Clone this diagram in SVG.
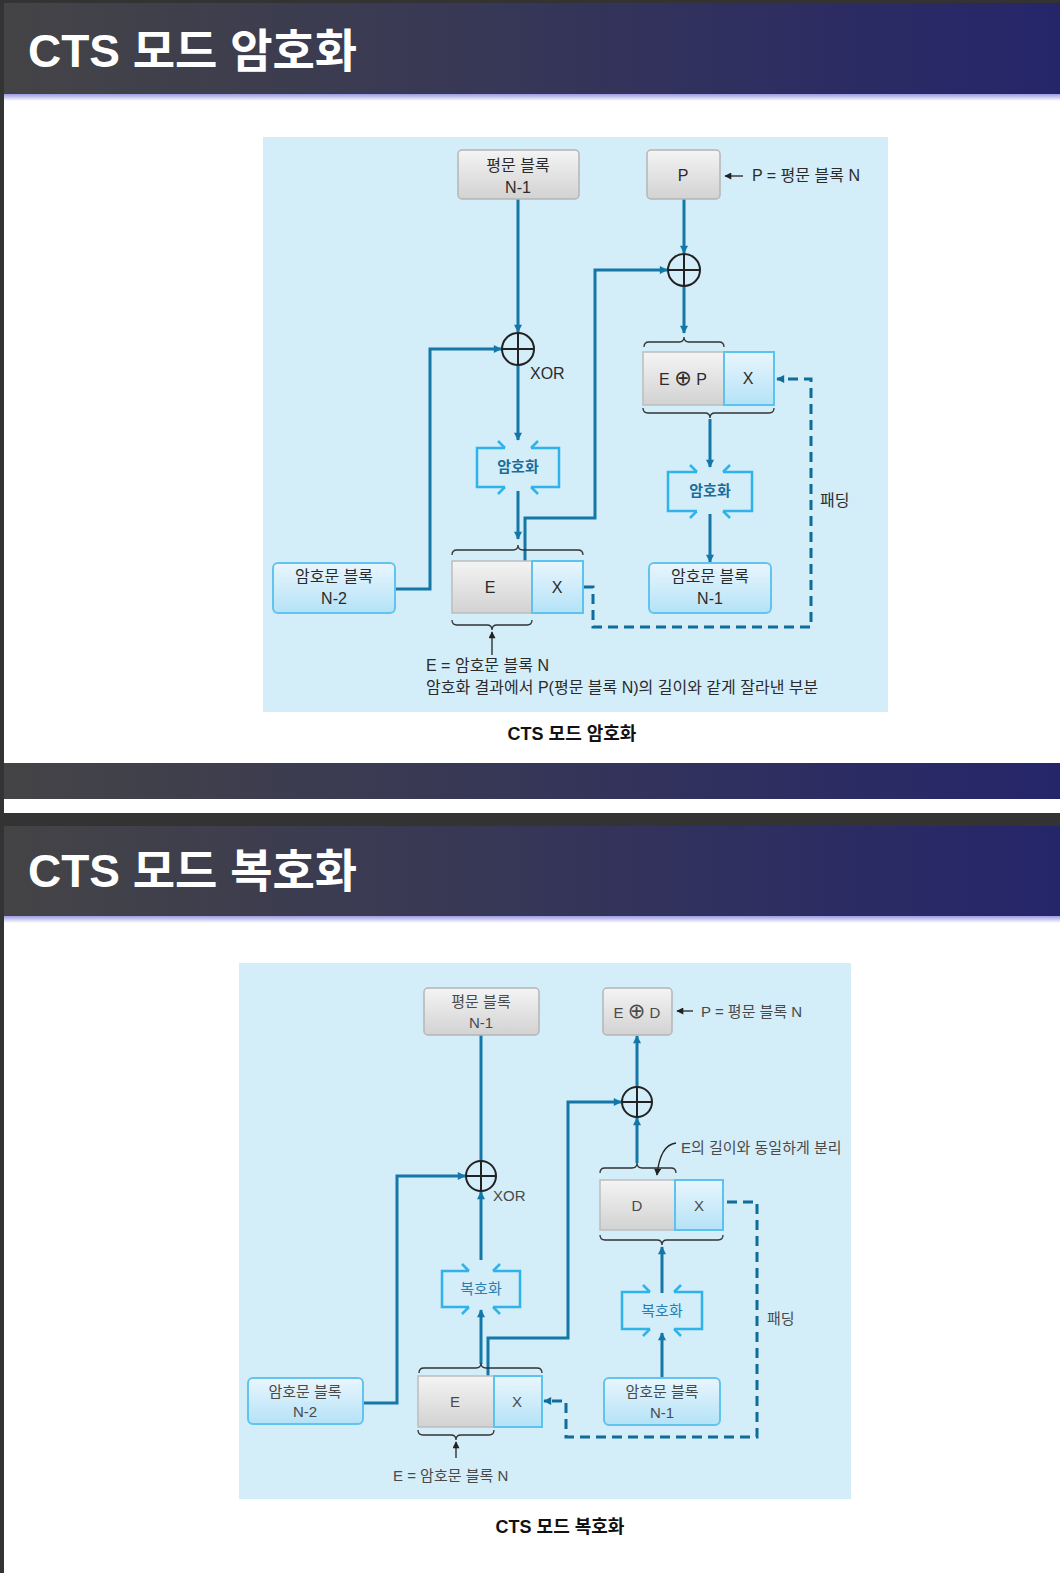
<svg xmlns="http://www.w3.org/2000/svg" width="1060" height="1573" viewBox="0 0 1060 1573">
<defs>
<style>
.hd{font-family:"Liberation Sans","Noto Sans CJK KR",sans-serif;font-weight:bold;fill:#fff}
.cap{font-family:"Liberation Sans","Noto Sans CJK KR",sans-serif;font-weight:bold;font-size:18px;fill:#111;text-anchor:middle}
.t{font-family:"Liberation Sans","DejaVu Sans","Noto Sans CJK KR",sans-serif;font-size:16px;fill:#2b2b2b}
.tb{font-family:"Liberation Sans","DejaVu Sans","Noto Sans CJK KR",sans-serif;font-size:15px;fill:#4a4a4a}
.c{text-anchor:middle}
.op{font-family:"DejaVu Sans",sans-serif;font-size:21px}
.enc{font-family:"Noto Sans CJK KR",sans-serif;font-size:15px;font-weight:bold;fill:#1a6d9b;text-anchor:middle}
.dec{font-family:"Noto Sans CJK KR",sans-serif;font-size:15px;fill:#2a7fb2;text-anchor:middle}
.gbox{fill:url(#gg);stroke:#b5b5b5;stroke-width:1.5}
.bbox{fill:url(#bg);stroke:#62c4ee;stroke-width:2}
.gcell{fill:url(#gg);stroke:#bdbdbd;stroke-width:1.5}
.bcell{fill:url(#bg);stroke:#5cc2ee;stroke-width:2}
.br{fill:none;stroke:#2fb3ea;stroke-width:2.5}
.xor{fill:none;stroke:#222;stroke-width:2}
.ln{fill:none;stroke:#1577a8;stroke-width:3}
.ds{fill:none;stroke:#0f6c9b;stroke-width:3;stroke-dasharray:10 6}
.brace{fill:none;stroke:#333;stroke-width:1.3}
.thin{fill:none;stroke:#222;stroke-width:1.3}
</style>
<linearGradient id="hg" x1="0" y1="0" x2="1" y2="0">
<stop offset="0" stop-color="#444446"/><stop offset="0.5" stop-color="#363658"/><stop offset="1" stop-color="#25256b"/>
</linearGradient>
<linearGradient id="lv" x1="0" y1="0" x2="0" y2="1">
<stop offset="0" stop-color="#9a9ae2"/><stop offset="1" stop-color="#ffffff"/>
</linearGradient>
<linearGradient id="gg" x1="0" y1="0" x2="0" y2="1">
<stop offset="0" stop-color="#f4f4f4"/><stop offset="1" stop-color="#d2d2d2"/>
</linearGradient>
<linearGradient id="bg" x1="0" y1="0" x2="0" y2="1">
<stop offset="0" stop-color="#e9f6fd"/><stop offset="1" stop-color="#b4e2f7"/>
</linearGradient>
<marker id="ah" viewBox="0 0 10 10" refX="9" refY="5" markerWidth="9" markerHeight="8" markerUnits="userSpaceOnUse" orient="auto">
<path d="M0,0 L10,5 L0,10 z" fill="#1577a8"/>
</marker>
<marker id="ad" viewBox="0 0 10 10" refX="9" refY="5" markerWidth="9" markerHeight="8" markerUnits="userSpaceOnUse" orient="auto">
<path d="M0,0 L10,5 L0,10 z" fill="#0f6c9b"/>
</marker>
<marker id="ak" viewBox="0 0 10 10" refX="9" refY="5" markerWidth="8" markerHeight="7" markerUnits="userSpaceOnUse" orient="auto">
<path d="M0,0 L10,5 L0,10 z" fill="#222"/>
</marker>
</defs>

<!-- page -->
<rect x="0" y="0" width="1060" height="1573" fill="#ffffff"/>
<rect x="0" y="0" width="1060" height="3" fill="#333"/>
<rect x="0" y="0" width="4" height="1573" fill="#333"/>
<rect x="4" y="3" width="1056" height="91" fill="url(#hg)"/>
<rect x="4" y="94" width="1056" height="7" fill="url(#lv)"/>
<text class="hd" x="28" y="67" font-size="46">CTS 모드 암호화</text>

<rect x="4" y="763" width="1056" height="36" fill="url(#hg)"/>
<rect x="4" y="813" width="1056" height="13" fill="#333"/>
<rect x="4" y="826" width="1056" height="90" fill="url(#hg)"/>
<rect x="4" y="916" width="1056" height="7" fill="url(#lv)"/>
<text class="hd" x="28" y="887" font-size="46">CTS 모드 복호화</text>

<!-- ===== Encryption diagram ===== -->
<rect x="263" y="137" width="625" height="575" fill="#d3edf9"/>

<g id="enc-connectors">
<path class="ln" d="M518,199 V332" marker-end="url(#ah)"/>
<path class="ln" d="M395,589 H430 V349 H501" marker-end="url(#ah)"/>
<path class="ln" d="M518,365 V440" marker-end="url(#ah)"/>
<path class="ln" d="M518,491 V539" marker-end="url(#ah)"/>
<path class="ln" d="M525,561 V518 H595 V270 H667" marker-end="url(#ah)"/>
<path class="ln" d="M684,199 V253" marker-end="url(#ah)"/>
<path class="ln" d="M684,286 V333" marker-end="url(#ah)"/>
<path class="ln" d="M710,419 V467" marker-end="url(#ah)"/>
<path class="ln" d="M710,514 V562" marker-end="url(#ah)"/>
<path class="ds" d="M584,587 H593 V627 H811 V379 H777" marker-end="url(#ad)"/>
<path class="thin" d="M743,176 H725" marker-end="url(#ak)"/>
<path class="thin" d="M492,655 V632" marker-end="url(#ak)"/>
</g>

<g id="enc-plain-n1">
<rect class="gbox" x="458" y="150" width="121" height="49" rx="4"/>
<text class="t c" x="518" y="171" font-size="15">평문 블록</text>
<text class="t c" x="518" y="193" font-size="15">N-1</text>
</g>
<g id="enc-p">
<rect class="gbox" x="647" y="150" width="73" height="49" rx="4"/>
<text class="t c" x="683" y="181">P</text>
</g>
<text class="t" x="752" y="181">P = 평문 블록 N</text>

<g id="enc-xor1">
<circle class="xor" cx="518" cy="349" r="16"/>
<path class="xor" d="M502,349 H534 M518,333 V365"/>
</g>
<text class="t" x="530" y="379">XOR</text>

<g id="enc-xor2">
<circle class="xor" cx="684" cy="270" r="16"/>
<path class="xor" d="M668,270 H700 M684,254 V286"/>
</g>

<g id="enc-box1">
<path class="br" d="M505,448 H477 V487 H505 M505,448 l-7,-7 M505,487 l-7,7 M531,448 H559 V487 H531 M531,448 l7,-7 M531,487 l7,7"/>
<text class="enc" x="518" y="472">암호화</text>
</g>
<g id="enc-box2">
<path class="br" d="M697,472 H668 V511 H697 M697,472 l-7,-7 M697,511 l-7,7 M723,472 H752 V511 H723 M723,472 l7,-7 M723,511 l7,7"/>
<text class="enc" x="710" y="496">암호화</text>
</g>

<g id="enc-ex">
<rect class="gcell" x="452" y="561" width="80" height="52"/>
<rect class="bcell" x="532" y="561" width="51" height="52"/>
<text class="t c" x="490" y="593">E</text>
<text class="t c" x="557" y="593">X</text>
<path class="brace" d="M452,555 Q452,550 457,550 H513 Q518,550 518,545 Q518,550 523,550 H578 Q583,550 583,555"/>
<path class="brace" d="M452,620 Q452,625 457,625 H487 Q492,625 492,630 Q492,625 497,625 H527 Q532,625 532,620"/>
</g>

<g id="enc-epx">
<rect class="gcell" x="643" y="352" width="81" height="53"/>
<rect class="bcell" x="724" y="352" width="50" height="53"/>
<text class="t c" x="683" y="385">E <tspan class="op">⊕</tspan> P</text>
<text class="t c" x="748" y="384">X</text>
<path class="brace" d="M644,347 Q644,342 649,342 H679 Q684,342 684,337 Q684,342 689,342 H719 Q724,342 724,347"/>
<path class="brace" d="M643,408 Q643,413 648,413 H705 Q710,413 710,418 Q710,413 715,413 H769 Q774,413 774,408"/>
</g>

<g id="enc-c-n2">
<rect class="bbox" x="273" y="563" width="122" height="50" rx="5"/>
<text class="t c" x="334" y="582" font-size="15">암호문 블록</text>
<text class="t c" x="334" y="604" font-size="15">N-2</text>
</g>
<g id="enc-c-n1">
<rect class="bbox" x="649" y="563" width="122" height="50" rx="5"/>
<text class="t c" x="710" y="582" font-size="15">암호문 블록</text>
<text class="t c" x="710" y="604" font-size="15">N-1</text>
</g>

<text class="t" x="820" y="506">패딩</text>
<text class="t" x="426" y="671">E = 암호문 블록 N</text>
<text class="t" x="426" y="693">암호화 결과에서 P(평문 블록 N)의 길이와 같게 잘라낸 부분</text>

<text class="cap" x="572" y="740">CTS 모드 암호화</text>

<!-- ===== Decryption diagram ===== -->
<rect x="239" y="963" width="612" height="536" fill="#d3edf9"/>

<g id="dec-connectors">
<path class="ln" d="M481,1035 V1161"/>
<path class="ln" d="M363,1403 H397 V1176 H465" marker-end="url(#ah)"/>
<path class="ln" d="M481,1260 V1192" marker-end="url(#ah)"/>
<path class="ln" d="M481,1364 V1310" marker-end="url(#ah)"/>
<path class="ln" d="M488,1376 V1338 H568 V1102 H621" marker-end="url(#ah)"/>
<path class="ln" d="M637,1163 V1118" marker-end="url(#ah)"/>
<path class="ln" d="M637,1087 V1036" marker-end="url(#ah)"/>
<path class="ln" d="M662,1378 V1333" marker-end="url(#ah)"/>
<path class="ln" d="M662,1293 V1247" marker-end="url(#ah)"/>
<path class="ds" d="M727,1202 H757 V1437 H566 V1401 H544" marker-end="url(#ad)"/>
<path class="thin" d="M693,1011 H677" marker-end="url(#ak)"/>
<path class="thin" d="M456,1458 V1442" marker-end="url(#ak)"/>
<path class="thin" d="M676,1143 Q660,1145 657,1175" marker-end="url(#ak)"/>
</g>

<g id="dec-plain-n1">
<rect class="gbox" x="424" y="988" width="115" height="47" rx="4"/>
<text class="tb c" x="481" y="1007">평문 블록</text>
<text class="tb c" x="481" y="1028">N-1</text>
</g>
<g id="dec-ed">
<rect class="gbox" x="603" y="988" width="69" height="47" rx="4"/>
<text class="tb c" x="637" y="1018" font-size="16">E <tspan class="op">⊕</tspan> D</text>
</g>
<text class="tb" x="701" y="1017">P = 평문 블록 N</text>

<g id="dec-xor1">
<circle class="xor" cx="481" cy="1176" r="15"/>
<path class="xor" d="M466,1176 H496 M481,1161 V1191"/>
</g>
<text class="tb" x="493" y="1201">XOR</text>

<g id="dec-xor2">
<circle class="xor" cx="637" cy="1102" r="15"/>
<path class="xor" d="M622,1102 H652 M637,1087 V1117"/>
</g>

<g id="dec-box1">
<path class="br" d="M469,1271 H442 V1307 H469 M469,1271 l-7,-7 M469,1307 l-7,7 M493,1271 H520 V1307 H493 M493,1271 l7,-7 M493,1307 l7,7"/>
<text class="dec" x="481" y="1294">복호화</text>
</g>
<g id="dec-box2">
<path class="br" d="M650,1292 H622 V1329 H650 M650,1292 l-7,-7 M650,1329 l-7,7 M674,1292 H702 V1329 H674 M674,1292 l7,-7 M674,1329 l7,7"/>
<text class="dec" x="662" y="1316">복호화</text>
</g>

<g id="dec-ex">
<rect class="gcell" x="418" y="1376" width="76" height="51"/>
<rect class="bcell" x="494" y="1376" width="48" height="51"/>
<text class="tb c" x="455" y="1407" font-size="16">E</text>
<text class="tb c" x="517" y="1407" font-size="16">X</text>
<path class="brace" d="M419,1373 Q419,1368 424,1368 H476 Q481,1368 481,1363 Q481,1368 486,1368 H537 Q542,1368 542,1373"/>
<path class="brace" d="M418,1430 Q418,1435 423,1435 H451 Q456,1435 456,1440 Q456,1435 461,1435 H489 Q494,1435 494,1430"/>
</g>

<g id="dec-dx">
<rect class="gcell" x="600" y="1180" width="75" height="50"/>
<rect class="bcell" x="675" y="1180" width="48" height="50"/>
<text class="tb c" x="637" y="1211" font-size="16">D</text>
<text class="tb c" x="699" y="1211" font-size="16">X</text>
<path class="brace" d="M600,1173 Q600,1168 605,1168 H632 Q637,1168 637,1163 Q637,1168 642,1168 H671 Q676,1168 676,1173"/>
<path class="brace" d="M600,1235 Q600,1240 605,1240 H657 Q662,1240 662,1245 Q662,1240 667,1240 H718 Q723,1240 723,1235"/>
</g>

<g id="dec-c-n2">
<rect class="bbox" x="248" y="1378" width="115" height="46" rx="5"/>
<text class="tb c" x="305" y="1397">암호문 블록</text>
<text class="tb c" x="305" y="1417">N-2</text>
</g>
<g id="dec-c-n1">
<rect class="bbox" x="604" y="1378" width="116" height="47" rx="5"/>
<text class="tb c" x="662" y="1397">암호문 블록</text>
<text class="tb c" x="662" y="1418">N-1</text>
</g>

<text class="tb" x="681" y="1153">E의 길이와 동일하게 분리</text>
<text class="tb" x="767" y="1324">패딩</text>
<text class="tb" x="393" y="1481">E = 암호문 블록 N</text>

<text class="cap" x="560" y="1533">CTS 모드 복호화</text>
</svg>
